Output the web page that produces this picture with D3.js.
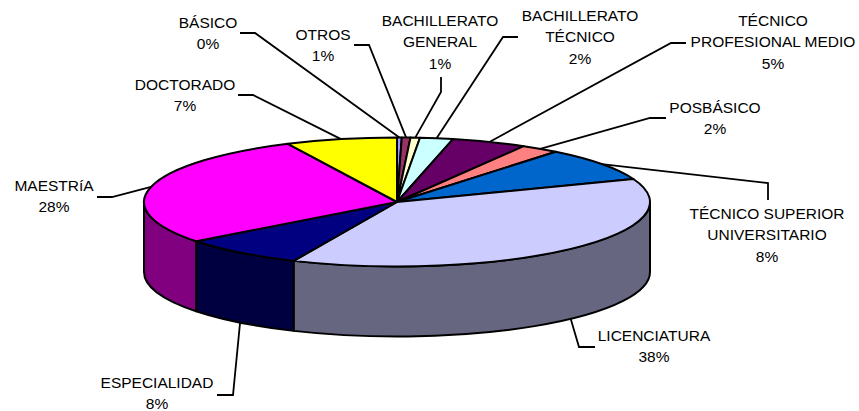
<!DOCTYPE html>
<html>
<head>
<meta charset="utf-8">
<script src="https://cdn.jsdelivr.net/npm/d3@7"></script>
<style>
  body { margin: 0; background: #fff; }
  svg { display: block; }
  .lbl { font-family: "Liberation Sans", Arial, sans-serif; font-size: 15.5px; fill: #000; }
</style>
</head>
<body>
<div id="chart"></div>
<script>
// data, in drawing order (clockwise from 12 o'clock)
var categories = ["BÁSICO", "OTROS", "BACHILLERATO GENERAL", "BACHILLERATO TÉCNICO",
  "TÉCNICO PROFESIONAL MEDIO", "POSBÁSICO", "TÉCNICO SUPERIOR UNIVERSITARIO",
  "LICENCIATURA", "ESPECIALIDAD", "MAESTRíA", "DOCTORADO"];
var values = [0.3, 0.55, 0.6, 2.1, 4.8, 2.45, 8.4, 37.5, 7.9, 28.3, 7.1];
// label lines as printed in the chart
var labelLines = [["BÁSICO"], ["OTROS"], ["BACHILLERATO", "GENERAL"], ["BACHILLERATO", "TÉCNICO"],
  ["TÉCNICO", "PROFESIONAL MEDIO"], ["POSBÁSICO"], ["TÉCNICO SUPERIOR", "UNIVERSITARIO"],
  ["LICENCIATURA"], ["ESPECIALIDAD"], ["MAESTRíA"], ["DOCTORADO"]];

var colors = ["#9999FF", "#993366", "#FFFFCC", "#CCFFFF", "#660066", "#FF8080",
  "#0066CC", "#CCCCFF", "#000080", "#FF00FF", "#FFFF00"];

// label layout: text centre x, first line y, leader start and elbow
var labelPos = [
  {x: 208, y: 22, s: [240, 33], e: [255, 33]},
  {x: 323, y: 34, s: [354, 45], e: [369, 45]},
  {x: 440, y: 20, s: [441, 77], e: [441, 92]},
  {x: 580, y: 15, s: [518, 37], e: [503, 37]},
  {x: 773, y: 20, s: [686, 43], e: [671, 43]},
  {x: 715, y: 107, s: [666, 118], e: [650, 118]},
  {x: 767, y: 213, s: [768, 200], e: [768, 183]},
  {x: 654, y: 335, s: [595, 347], e: [579, 347]},
  {x: 157, y: 382, s: [217, 395], e: [233, 395]},
  {x: 54, y: 185, s: [97, 197], e: [112, 197]},
  {x: 185, y: 84, s: [238, 95], e: [253, 95]}
];

var width = 859, height = 411;
var cx = 397, cy = 202, rx = 253, ry = 64.5, depth = 70;
var k = ry / rx, dS = depth / k;

var svg = d3.select("#chart").append("svg")
  .attr("width", width)
  .attr("height", height);

var total = d3.sum(values);
var pie = d3.pie().sort(null).value(d => d);
var arcs = pie(values);
arcs.forEach((a, i) => { a.i = i; });

var arc = d3.arc().innerRadius(0).outerRadius(rx);

var pieG = svg.append("g")
  .attr("transform", `translate(${cx},${cy}) scale(1,${k})`);

function darker(c) {
  var r = d3.rgb(c);
  return d3.rgb(r.r / 2, r.g / 2, r.b / 2);
}

// side walls (front half only)
function sidePath(a, b) {
  var p = d3.path();
  p.moveTo(rx * Math.sin(a), -rx * Math.cos(a));
  p.arc(0, 0, rx, a - Math.PI / 2, b - Math.PI / 2, false);
  p.lineTo(rx * Math.sin(b), -rx * Math.cos(b) + dS);
  p.arc(0, dS, rx, b - Math.PI / 2, a - Math.PI / 2, true);
  p.closePath();
  return p.toString();
}

arcs.forEach(function(d) {
  var a = Math.max(d.startAngle, Math.PI / 2);
  var b = Math.min(d.endAngle, 3 * Math.PI / 2);
  if (b <= a) return;
  pieG.append("path")
    .attr("d", sidePath(a, b))
    .attr("fill", darker(colors[d.i]))
    .attr("stroke", "#000")
    .attr("stroke-width", 2)
    .attr("stroke-linejoin", "round")
    .attr("vector-effect", "non-scaling-stroke");
});

// top faces
pieG.selectAll("path.top")
  .data(arcs)
  .enter()
  .append("path")
  .attr("class", "top")
  .attr("d", arc)
  .attr("fill", d => colors[d.i])
  .attr("stroke", "#000")
  .attr("stroke-width", 2)
  .attr("stroke-linejoin", "round")
  .attr("vector-effect", "non-scaling-stroke");

// leader lines
arcs.forEach(function(d) {
  var m = (d.startAngle + d.endAngle) / 2;
  var px = cx + rx * Math.sin(m);
  var py = cy - ry * Math.cos(m) + (Math.cos(m) < 0 ? depth : 0);
  var lp = labelPos[d.i];
  svg.append("polyline")
    .attr("points", [lp.s, lp.e, [px, py]].map(p => p.join(",")).join(" "))
    .attr("fill", "none")
    .attr("stroke", "#000")
    .attr("stroke-width", 1.8);
});

// labels
arcs.forEach(function(d) {
  var lp = labelPos[d.i];
  var lines = labelLines[d.i].concat([Math.round(d.data / total * 100) + "%"]);
  var t = svg.append("text")
    .attr("class", "lbl")
    .attr("text-anchor", "middle");
  lines.forEach(function(l, j) {
    t.append("tspan")
      .attr("x", lp.x)
      .attr("y", lp.y + j * 21.5)
      .attr("dy", "0.36em")
      .text(l);
  });
});
</script>
</body>
</html>
